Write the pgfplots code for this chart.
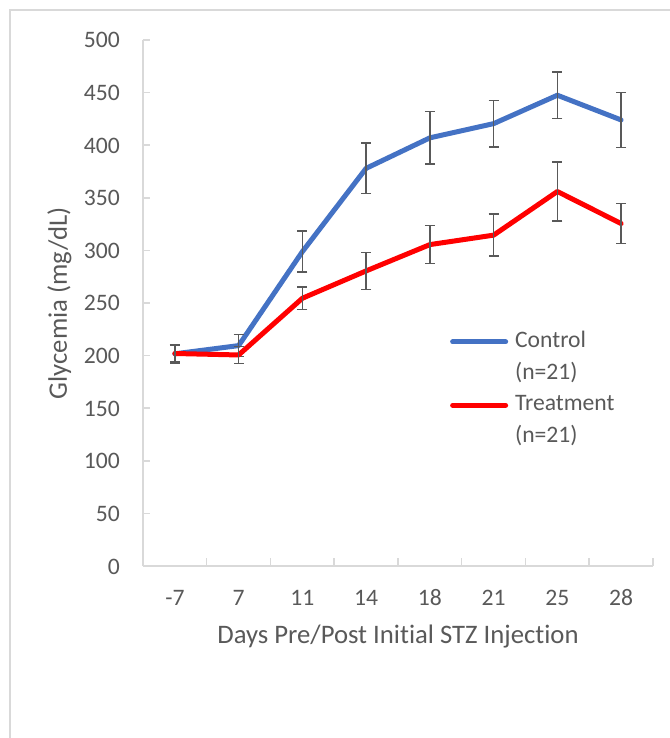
\documentclass[border=0pt]{standalone}
\usepackage{fontspec}
\setmainfont{Carlito}[Ligatures=NoCommon]
\usepackage{pgfplots}
\usepackage{pgfplotstable}
\pgfplotsset{compat=1.18}
\definecolor{ctrl}{HTML}{4472C4}
\definecolor{trt}{HTML}{FF0000}
\definecolor{txt}{HTML}{595959}
\definecolor{axg}{HTML}{D9D9D9}
\pgfplotstableread{
x c ce t te
0 201.7 9 202 8
1 209.5 10.4 200.6 8
2 298.8 19.6 254.5 10.7
3 378 24 280.5 17.5
4 407 25 305.5 18
5 420.5 22 314.5 20
6 447.5 22 356 28
7 424 26 325.5 19
}\datatable
\begin{document}
\begin{tikzpicture}
\begin{axis}[
  at={(31.875bp,0bp)}, anchor=origin,
  scale only axis, width=510bp, height=526bp,
  xmin=-0.5, xmax=7.5, ymin=0, ymax=500,
  axis x line=bottom, axis y line=left,
  axis line style={-, draw=axg, line width=1.8bp},
  xtick={0,...,7},
  xticklabels={-7,7,11,14,18,21,25,28},
  xtick style={draw=none},
  minor xtick={-0.5,0.5,...,7.5},
  minor x tick style={draw=axg, line width=1.5bp},
  minor tick length=8bp,
  ytick={0,50,...,500},
  ytick style={draw=axg, line width=1.5bp},
  major tick length=7bp,
  tick align=inside,
  /pgf/number format/assume math mode=true,
  tick label style={font=\fontsize{23.7}{28}\selectfont, text=txt},
  yticklabel style={anchor=base east, inner sep=0pt, xshift=-23bp, yshift=-8bp},
  xticklabel style={anchor=base, inner sep=0pt, yshift=-39bp},
  xlabel={Days Pre/Post Initial STZ Injection},
  ylabel={Glycemia (mg/dL)},
  every axis x label/.style={at={([yshift=-77bp]axis description cs:0.5,0)}, anchor=base, font=\fontsize{26.8}{30}\selectfont, text=txt, inner sep=0pt},
  every axis y label/.style={at={([xshift=-76bp]axis description cs:0,0.5)}, rotate=90, anchor=base, font=\fontsize{26.8}{30}\selectfont, text=txt, inner sep=0pt},
  legend style={at={(rel axis cs:0.596,0.452)}, anchor=north west, draw=none, fill=none,
    font=\fontsize{23.7}{28}\selectfont, text=txt,
    nodes={inner sep=0pt, text height=17bp, text depth=6bp},
    row sep=8.7bp, column sep=7bp},
  legend cell align=left,
  legend image code/.code={\draw[#1, line cap=round] (0bp,0bp) -- (53bp,0bp);},
  clip=false,
]
\addplot[ctrl, line width=5bp, line join=round, line cap=round,
  error bars/.cd, y dir=both, y explicit,
  error bar style={txt, line width=1.6bp, line cap=butt},
  error mark options={txt, line width=1.6bp, mark size=5bp, rotate=90}]
  table[x=x, y=c, y error=ce] {\datatable};
\addlegendentry{Control}
\addlegendimage{empty legend}
\addlegendentry{(n=21)}
\addplot[trt, line width=5bp, line join=round, line cap=round,
  error bars/.cd, y dir=both, y explicit,
  error bar style={txt, line width=1.6bp, line cap=butt},
  error mark options={txt, line width=1.6bp, mark size=5bp, rotate=90}]
  table[x=x, y=t, y error=te] {\datatable};
\addlegendentry{Treatment}
\addlegendimage{empty legend}
\addlegendentry{(n=21)}
\end{axis}
\pgfresetboundingbox
\useasboundingbox (-143bp,-172bp) rectangle (527bp,566bp);
\draw[axg, line width=2bp] (-132.5bp,-180bp) -- (-132.5bp,555.5bp) -- (540bp,555.5bp);
\end{tikzpicture}
\end{document}
